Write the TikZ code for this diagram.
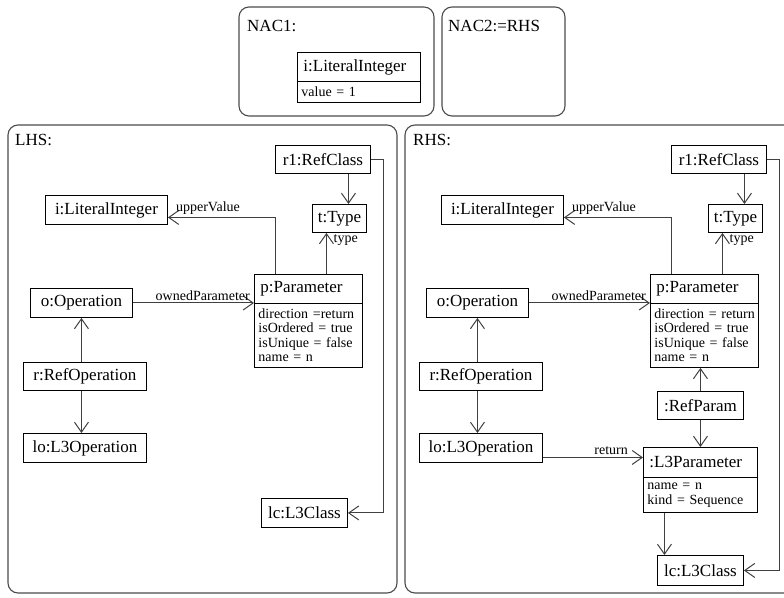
\documentclass[tikz,border=0pt]{standalone}
\usepackage{fontspec}
\setmainfont{Liberation Serif}
\usetikzlibrary{arrows.meta}
\usetikzlibrary{positioning}

\newcommand{\clsfont}{\fontsize{17}{19}\selectfont}
\newcommand{\attfont}{\fontsize{14}{14.5}\selectfont}

\tikzset{
  pane/.style={draw=black!70, line width=1.1pt, rounded corners=10pt},
  panename/.style={anchor=west, font=\clsfont, inner sep=0pt},
  obj/.style={draw, line width=0.9pt, anchor=north west, font=\clsfont,
    inner sep=0pt, minimum height=29pt},
  objhead/.style={obj, align=left, inner xsep=6pt},
  objattr/.style={draw, line width=0.9pt, anchor=north west, font=\attfont,
    align=left, inner xsep=4pt, inner ysep=0pt},
  link/.style={draw=black!75, line width=1pt,
    -{Straight Barb[length=10pt,width=14pt]}},
  role/.style={font=\attfont, inner sep=1pt},
}

\begin{document}
\begin{tikzpicture}[x=1pt, y=-1pt]
\clip (0,0) rectangle (784,597);

% the four panes
\draw[pane] (239,7) rectangle (434,116);
\draw[pane] (442,7) rectangle (565,116);
\draw[pane] (8,125) rectangle (397,593);
\draw[pane] (405,125) rectangle (795,593);
\node[panename] (nac1) at (247,26) {NAC1:};
\node[panename] (nac2) at (448,26) {NAC2:=RHS};
\node[panename] (lhs) at (15,140) {LHS:};
\node[panename] (rhs) at (413,140) {RHS:};

% negative condition
\node[objhead, text width=111pt] (iN) at (297,52) {i:LiteralInteger};
\node[objattr, text width=115pt, minimum height=21pt] (iNa) at (297,81) {value = 1};

% target classes
\node[obj, minimum width=86pt] (lcL) at (261,498) {lc:L3Class};
\node[obj, minimum width=86pt, minimum height=30pt] (lcR) at (657,555) {lc:L3Class};

% same pattern on both sides
\foreach \s/\dx/\dir in {L/0/{direction =return}, R/396/{direction = return}} {
\begin{scope}[xshift=\dx pt]
\node[obj, minimum width=95pt, minimum height=28pt] (r1\s) at (275,145) {r1:RefClass};
\node[obj, minimum width=54pt, minimum height=28pt] (t\s) at (312,204) {t:Type};
\node[obj, minimum width=122pt] (i\s) at (45,195) {i:LiteralInteger};
\node[objhead, text width=96pt] (p\s) at (254,274) {p:Parameter};
\node[objattr, text width=100pt, minimum height=64pt] (pa\s) at (254,303)
  {\mbox{\dir}\\ isOrdered = true\\ isUnique = false\\ name = n};
\node[obj, minimum width=102pt] (o\s) at (30,288) {o:Operation};
\node[obj, minimum width=123pt, minimum height=28pt] (r\s) at (23,362) {r:RefOperation};
\node[obj, minimum width=123pt] (lo\s) at (23,433) {lo:L3Operation};

\draw[link] ([xshift=9pt]t\s.north |- r1\s.south) -- ([xshift=9pt]t\s.north);
\draw[link] (r1\s.east) -| ([xshift=36pt]lc\s.east) -- (lc\s.east);

\draw[link] ([xshift=21pt]p\s.north west) |- ([yshift=-7.5pt]i\s.east);
\node[role, anchor=south west] (uv\s) at ([xshift=7pt,yshift=-5.5pt]i\s.east) {upperValue};

\draw[link] ([xshift=-13pt]t\s.south |- p\s.north) -- ([xshift=-13pt]t\s.south);
\node[role, anchor=north west] (ty\s) at ([xshift=-7pt,yshift=-1pt]t\s.south) {type};

\coordinate (op\s) at (o\s.east -| pa\s.west);
\draw[link] (o\s.east) -- (op\s);
\node[role, anchor=south east] (own\s) at ([xshift=-3pt,yshift=1pt]op\s) {ownedParameter};

\draw[link] (r\s.north -| o\s.south) -- (o\s.south);
\draw[link] (r\s.south -| o\s.south) -- (lo\s.north -| o\s.south);
\end{scope}
}

% right hand side only
\node[obj, minimum width=86pt, minimum height=28pt] (rp) at (657,391) {:RefParam};
\node[objhead, text width=102pt, minimum height=30pt] (l3) at (643,447) {:L3Parameter};
\node[objattr, text width=106pt, minimum height=35pt] (l3a) at (643,477)
  {name = n\\ kind = Sequence};

\draw[link] (rp.north) -- (rp.north |- paR.south);
\draw[link] (rp.south) -- (rp.south |- l3.north);

\coordinate (retout) at ([yshift=-9.5pt]loR.east);
\coordinate (retin) at (retout -| l3.west);
\draw[link] (retout) -- (retin);
\node[role, anchor=south east] (ret) at ([xshift=-14pt,yshift=2pt]retin) {return};

\draw[link] ([xshift=-36pt]lcR.north |- l3a.south) -- ([xshift=-36pt]lcR.north);

\end{tikzpicture}
\end{document}
